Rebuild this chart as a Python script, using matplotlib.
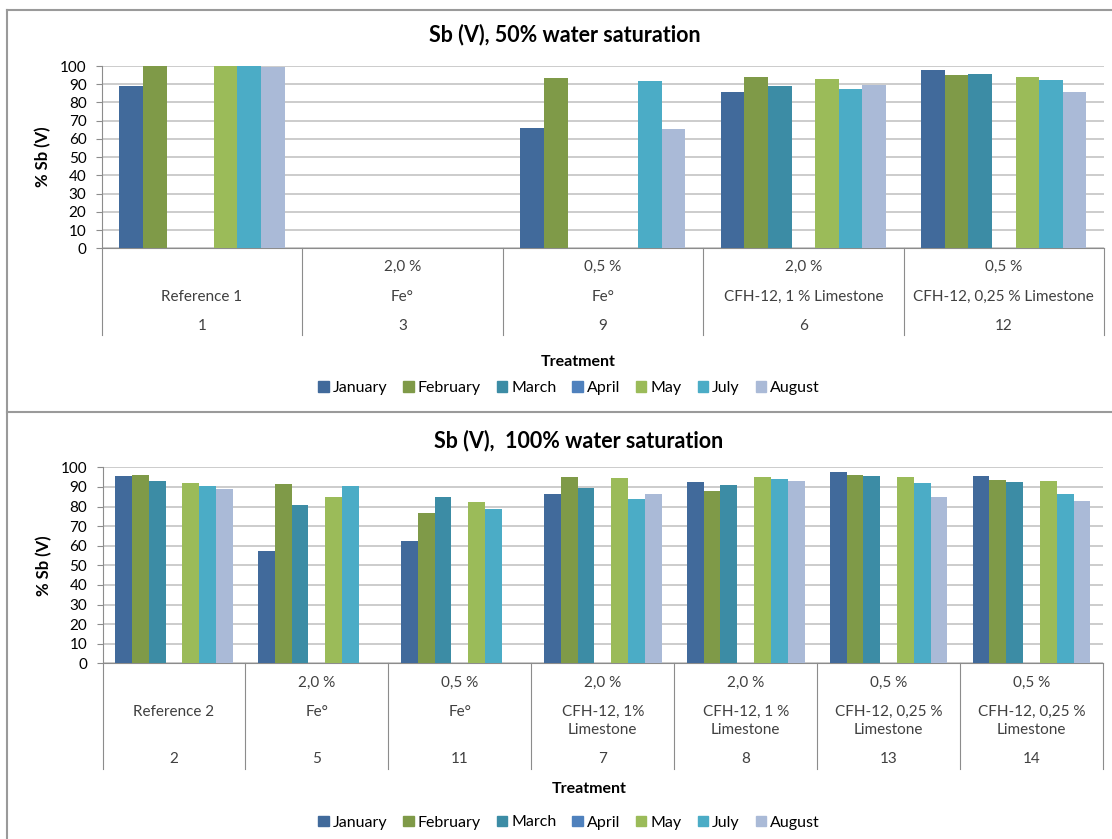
import numpy as np
import matplotlib
matplotlib.use("Agg")
import matplotlib.pyplot as plt
from matplotlib.patches import Patch
from matplotlib.lines import Line2D
from matplotlib.transforms import blended_transform_factory

plt.rcParams['font.family'] = ['Lato', 'DejaVu Sans']

nan = np.nan

# months (series) shared by both charts
months = ['January', 'February', 'March', 'April', 'May', 'July', 'August']
colors = ['#416A9B', '#7F9A48', '#3C8CA5', '#4F81BD', '#9BBB59', '#4BACC6', '#AABAD7']

# 50% water saturation
conc_50 = ['', '2,0 %', '0,5 %', '2,0 %', '0,5 %']
treat_50 = ['Reference 1', 'Fe°', 'Fe°', 'CFH-12, 1 % Limestone', 'CFH-12, 0,25 % Limestone']
num_50 = ['1', '3', '9', '6', '12']
jan_50 = [89.0, nan, 66.2, 85.6, 97.8]
feb_50 = [100.0, nan, 93.6, 94.0, 95.1]
mar_50 = [nan, nan, nan, 89.0, 95.6]
apr_50 = [nan, nan, nan, nan, nan]
may_50 = [100.0, nan, nan, 93.1, 94.0]
jul_50 = [100.0, nan, 92.0, 87.6, 92.3]
aug_50 = [99.5, nan, 65.3, 89.6, 85.6]

# 100% water saturation
conc_100 = ['', '2,0 %', '0,5 %', '2,0 %', '2,0 %', '0,5 %', '0,5 %']
treat_100 = ['Reference 2', 'Fe°', 'Fe°', 'CFH-12, 1%\nLimestone', 'CFH-12, 1 %\nLimestone',
             'CFH-12, 0,25 %\nLimestone', 'CFH-12, 0,25 %\nLimestone']
num_100 = ['2', '5', '11', '7', '8', '13', '14']
jan_100 = [95.4, 57.3, 62.6, 86.2, 92.5, 97.6, 95.7]
feb_100 = [96.1, 91.5, 76.5, 95.1, 87.9, 96.1, 93.5]
mar_100 = [93.2, 81.0, 84.7, 89.6, 91.0, 95.7, 92.5]
apr_100 = [nan, nan, nan, nan, nan, nan, nan]
may_100 = [92.2, 84.7, 82.5, 94.4, 95.1, 95.1, 93.2]
jul_100 = [90.5, 90.5, 78.9, 83.8, 94.0, 92.2, 86.2]
aug_100 = [89.1, nan, nan, 86.2, 93.2, 84.7, 82.8]

W, H = 1112, 839
fig = plt.figure(figsize=(W / 100, H / 100), dpi=100)

def fy(py):
    # pixel row (from top) -> figure fraction
    return 1 - py / H

def fx(px):
    return px / W

def chart(series, conc, treat, num, left, right, ytop, ybot, title, title_xy,
          rows, div_bot, treat_y, legend_y):
    ax = fig.add_axes([fx(left), fy(ybot), fx(right - left), fy(ytop) - fy(ybot)])
    n = len(num)
    x = np.arange(n)
    w = 1 / 8.5
    for i, (vals, c, m) in enumerate(zip(series, colors, months)):
        ax.bar(x + (i - 3) * w, vals, width=w, color=c, label=m, zorder=3)
    ax.set_xlim(-0.5, n - 0.5)
    ax.set_ylim(0, 100)
    ax.set_yticks(range(0, 101, 10))
    ax.yaxis.grid(True, color='#C8C8C8', linewidth=1.3, zorder=0)
    ax.set_xticks([])
    for s in ['top', 'right']:
        ax.spines[s].set_visible(False)
    ax.spines['left'].set_color('#8C8C8C')
    ax.spines['bottom'].set_color('#8C8C8C')
    ax.tick_params(axis='y', length=4, color='#8C8C8C', labelsize=11, pad=7)
    ax.set_ylabel('% Sb (V)', fontsize=12, fontweight='bold', labelpad=6)

    # category table under the axis
    tr = blended_transform_factory(ax.transData, fig.transFigure)
    for b in np.arange(n + 1) - 0.5:
        ax.add_line(Line2D([b, b], [fy(ybot), fy(div_bot)], transform=tr,
                           color='#8C8C8C', linewidth=0.8, clip_on=False))
    for i in range(n):
        ax.text(i, fy(rows[0]), conc[i], transform=tr, ha='center', va='center',
                fontsize=11, color='#404040')
        lines = treat[i].split('\n')
        for k, t in enumerate(lines):
            ax.text(i, fy(rows[1] + 18 * k), t, transform=tr, ha='center', va='center',
                    fontsize=11, color='#404040')
        ax.text(i, fy(rows[2]), num[i], transform=tr, ha='center', va='center',
                fontsize=11, color='#404040')

    fig.text(fx(title_xy[0]), fy(title_xy[1]), title, ha='center', va='center',
             fontsize=15.5, fontweight='bold')
    fig.text(fx(treat_y[0]), fy(treat_y[1]), 'Treatment', ha='center', va='center',
             fontsize=11.5, fontweight='bold')
    handles = [Patch(color=c, label=m) for c, m in zip(colors, months)]
    fig.legend(handles=handles, loc='center', bbox_to_anchor=(fx(569), fy(legend_y)),
               ncol=7, frameon=False, fontsize=11.5, handlelength=0.65, handleheight=0.65,
               handletextpad=0.25, columnspacing=1.0)
    return ax

ax1 = chart([jan_50, feb_50, mar_50, apr_50, may_50, jul_50, aug_50],
            conc_50, treat_50, num_50, 101.8, 1104, 66, 248.3,
            'Sb (V), 50% water saturation', (565, 35),
            (267, 297, 326), 335, (578, 362), 388)

ax2 = chart([jan_100, feb_100, mar_100, apr_100, may_100, jul_100, aug_100],
            conc_100, treat_100, num_100, 102.5, 1103, 467.3, 663.3,
            'Sb (V),  100% water saturation', (579, 441),
            (683, 712, 759), 769, (589, 789), 822.5)

# panel frames
frame = dict(color='#9A9A9A', linewidth=1.5, transform=fig.transFigure)
fig.add_artist(Line2D([fx(7), 1], [fy(10), fy(10)], **frame))
fig.add_artist(Line2D([fx(7), 1], [fy(412), fy(412)], **frame))
fig.add_artist(Line2D([fx(7), fx(7)], [fy(10), 0], **frame))

fig.savefig('out.png', dpi=100)
